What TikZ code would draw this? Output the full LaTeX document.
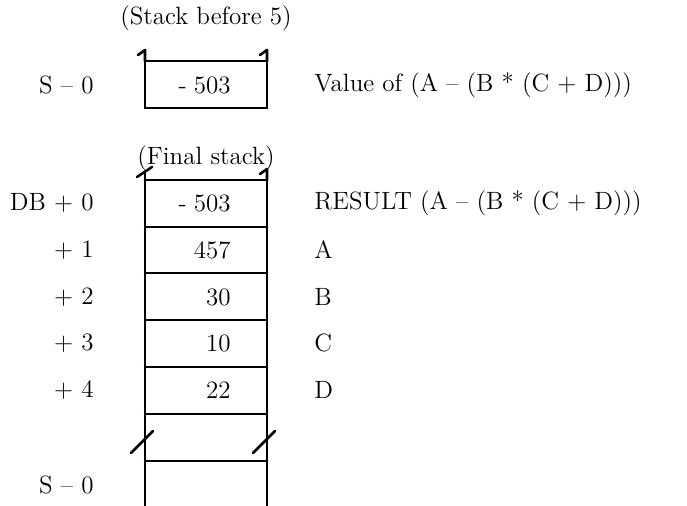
\documentclass[tikz,border=0pt]{standalone}
\usetikzlibrary{calc}
\newcommand{\topcurl}[1]{\draw[stk,line join=round] (#1) -- ++(0,-11) -- ++(-7,5);}
\newcommand{\topslash}[1]{\draw[stk] ($(#1)+(-8,-3)$) -- ($(#1)+(7,-13)$);}
\newcommand{\breakmark}[1]{\draw[stk] ($(#1)+(-14,10)$) -- ($(#1)+(8,-12)$);}
\newcommand{\negval}[1]{-\hspace{3.5pt}#1}

\begin{document}
\begin{tikzpicture}[x=0.5pt,y=-0.5pt,
  stk/.style={line width=1.3pt,line cap=round},
  txt/.style={inner sep=0pt,font=\fontsize{12.5}{15}\selectfont}]
\useasboundingbox (0,0) rectangle (687,506);

% =========================
% POINTS
% =========================

\coordinate (A) at (145,61);
\coordinate (B) at (267,61);
\coordinate (C) at (145,108);
\coordinate (D) at (267,108);

\coordinate (E) at (145,180);
\coordinate (F) at (267,180);
\coordinate (G) at (145,506);
\coordinate (H) at (267,506);

\coordinate (K) at (145,443);
\coordinate (L) at (267,443);

% =========================
% STACK BEFORE 5
% =========================

\draw[stk] (A) -- (C) -- (D) -- (B);
\draw[stk] (A) -- (B);
\topcurl{A}
\topcurl{B}

% =========================
% FINAL STACK
% =========================

\draw[stk] (G) -- ($(E)+(0,-8)$);
\draw[stk] (F) -- (H);
\draw[stk] (E) -- (F);
\foreach \y in {227,273,320,367,414,461}
  \draw[stk] (145,\y) -- (267,\y);
\topslash{E}
\topcurl{F}
\breakmark{K}
\breakmark{L}

% =========================
% LABELS
% =========================

\node[txt] (t1) at (206,18) {(Stack before 5)};
\node[txt,anchor=east] (s1) at (94,85) {S -- 0};
\node[txt,anchor=east] (v1) at (231,85) {\negval{503}};
\node[txt,anchor=west] (r1) at (314,85) {Value of (A -- (B * (C + D)))};

\node[txt] (t2) at (206,158) {(Final stack)};

\node[txt,anchor=east] (o0) at (94,203) {DB + 0};
\node[txt,anchor=east] (o1) at (94,250) {+ 1};
\node[txt,anchor=east] (o2) at (94,297) {+ 2};
\node[txt,anchor=east] (o3) at (94,343) {+ 3};
\node[txt,anchor=east] (o4) at (94,390) {+ 4};
\node[txt,anchor=east] (s2) at (94,485) {S -- 0};

\node[txt,anchor=east] (v0) at (231,203) {\negval{503}};
\node[txt,anchor=east] (v1b) at (231,250) {457};
\node[txt,anchor=east] (v2) at (231,297) {30};
\node[txt,anchor=east] (v3) at (231,343) {10};
\node[txt,anchor=east] (v4) at (231,390) {22};

\node[txt,anchor=west] (r0) at (314,203) {RESULT (A -- (B * (C + D)))};
\node[txt,anchor=west] (ra) at (314,250) {A};
\node[txt,anchor=west] (rb) at (314,297) {B};
\node[txt,anchor=west] (rc) at (314,343) {C};
\node[txt,anchor=west] (rd) at (314,390) {D};
\end{tikzpicture}
\end{document}
